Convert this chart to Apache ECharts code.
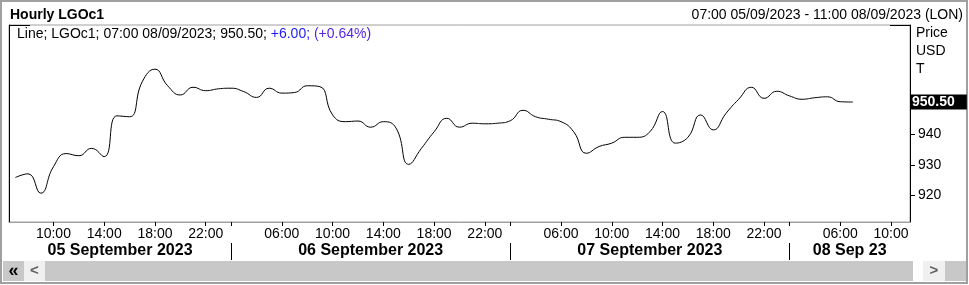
<!DOCTYPE html>
<html>
<head>
<meta charset="utf-8">
<script src="https://cdn.jsdelivr.net/npm/echarts@6/dist/echarts.min.js"></script>
<style>
html,body{margin:0;padding:0;background:#fff;}
#chart{width:969px;height:285px;}
</style>
</head>
<body>
<div id="chart"></div>
<script>
// ---- data ----
const dayKeys = ['05/09/2023', '06/09/2023', '07/09/2023', '08/09/2023'];
const dayLabels = ['05 September 2023', '06 September 2023', '07 September 2023', '08 Sep 23'];
const dayFirstHour = [7, 2, 2, 2];
const dayLastHour = [23, 23, 23, 11];
const labelHours = [6, 10, 14, 18, 22];
const yTickValues = [920, 930, 940];
const prices = [
  // 05/09 07:00 - 23:00
  925.9, 927.1, 920.8, 929.4, 933.7, 933.0, 935.4, 932.7, 946.0, 945.7,
  957.1, 961.2, 955.8, 952.8, 955.3, 954.2, 954.8,
  // 06/09 02:00 - 23:00
  955.0, 953.9, 952.0, 955.0, 953.4, 953.6, 955.8, 955.5, 946.3, 944.1,
  944.3, 942.3, 944.1, 942.0, 930.2, 935.4, 940.8, 945.2, 942.3, 943.6,
  943.4, 943.6,
  // 07/09 02:00 - 23:00
  944.4, 947.8, 945.7, 944.9, 944.1, 940.8, 933.8, 936.0, 937.1, 939.0,
  939.0, 940.8, 947.4, 937.1, 939.0, 946.3, 941.4, 946.8, 951.4, 955.3,
  951.7, 954.0,
  // 08/09 02:00 - 07:00
  952.5, 951.4, 951.9, 952.2, 950.6, 950.5
];
const titleText = 'Hourly LGOc1';
const rangeText = '07:00 05/09/2023 - 11:00 08/09/2023 (LON)';
const legendParts = ['Line; LGOc1; 07:00 08/09/2023; 950.50; ', '+6.00;', ' (+0.64%)'];
const unitLines = ['Price', 'USD', 'T'];

// ---- categories built from the session hours ----
const categories = [];
const catHour = [];
const dayStartIdx = [];
dayKeys.forEach((d, k) => {
  dayStartIdx.push(categories.length);
  for (let h = dayFirstHour[k]; h <= dayLastHour[k]; h++) {
    const hh = (h < 10 ? '0' : '') + h + ':00';
    categories.push(hh + ' ' + d);
    catHour.push(h);
  }
});
const nCat = categories.length;
const dayCenters = dayStartIdx.map((s, k) => {
  const a = k === 0 ? -0.5 : s;
  const b = k === dayStartIdx.length - 1 ? nCat - 0.5 : dayStartIdx[k + 1];
  return (a + b) / 2;
});
const dayBounds = dayStartIdx.slice(1);
const lastValue = prices[prices.length - 1];

const FONT = '"Liberation Sans", Arial, sans-serif';
const yMin = 911.4, yMax = 975.6;

const chart = echarts.init(document.getElementById('chart'), null, {renderer: 'canvas'});
chart.setOption({
  animation: false,
  backgroundColor: '#fff',
  grid: {left: 9, right: 59, top: 25, bottom: 63, show: true, borderColor: '#a0a0a0', borderWidth: 1, backgroundColor: 'transparent'},
  xAxis: [{
    type: 'category',
    data: categories,
    boundaryGap: true,
    axisLine: {show: true, onZero: false, lineStyle: {color: '#a0a0a0', width: 1}},
    axisTick: {
      show: true, alignWithLabel: true, length: 4,
      lineStyle: {color: '#000'},
      interval: (i) => labelHours.includes(catHour[i]) || dayBounds.includes(i)
    },
    axisLabel: {
      show: true, margin: 5, color: '#000', fontSize: 14, fontFamily: FONT,
      interval: (i) => labelHours.includes(catHour[i]),
      formatter: (v) => v.split(' ')[0]
    },
    splitLine: {show: false}
  }, {
    type: 'value',
    position: 'bottom',
    offset: 21,
    min: -0.5, max: nCat - 0.5,
    axisLine: {show: false, onZero: false},
    splitLine: {show: false},
    axisTick: {show: true, length: 17, customValues: dayBounds, lineStyle: {color: '#000'}},
    axisLabel: {
      show: true, margin: 0, customValues: dayCenters,
      color: '#000', fontSize: 16, fontWeight: 'bold', fontFamily: FONT,
      formatter: (v) => { const k = dayCenters.indexOf(v); return k >= 0 ? dayLabels[k] : ''; }
    }
  }],
  yAxis: [{
    type: 'value',
    position: 'right',
    min: yMin, max: yMax,
    axisLine: {show: true, onZero: false, lineStyle: {color: '#000'}},
    axisTick: {show: true, length: 5, customValues: yTickValues, lineStyle: {color: '#000'}},
    axisLabel: {show: true, margin: 8, customValues: yTickValues, color: '#000', fontSize: 14, fontFamily: FONT},
    splitLine: {show: false}
  }, {
    type: 'value',
    position: 'left',
    min: yMin, max: yMax,
    axisLine: {show: true, onZero: false, lineStyle: {color: '#000'}},
    axisTick: {show: false},
    axisLabel: {show: false},
    splitLine: {show: false}
  }],
  series: [{
    type: 'line',
    xAxisIndex: 0, yAxisIndex: 0,
    data: prices,
    smooth: true,
    symbol: 'none',
    showSymbol: false,
    clip: false,
    lineStyle: {color: '#000', width: 1},
    markLine: {
      silent: true,
      symbol: 'none',
      animation: false,
      lineStyle: {color: 'rgba(0,0,0,0)', width: 0, type: 'solid'},
      emphasis: {disabled: true},
      label: {
        show: true, position: 'end', distance: 1,
        formatter: () => lastValue.toFixed(2),
        color: '#fff', backgroundColor: '#000', fontWeight: 'bold', fontSize: 14, fontFamily: FONT,
        padding: [1, 12, 0, 1]
      },
      data: [{yAxis: lastValue}]
    }
  }],
  graphic: [
    {type: 'rect', shape: {x: 1, y: 1, width: 966, height: 282}, style: {fill: 'none', stroke: '#a0a0a0', lineWidth: 2}, silent: true},
    {type: 'text', x: 10, y: 8, style: {text: titleText, fill: '#000', font: 'bold 14px ' + FONT, align: 'left', verticalAlign: 'top'}},
    {type: 'text', x: 963, y: 8, style: {text: rangeText, fill: '#000', font: '14px ' + FONT, align: 'right', verticalAlign: 'top'}},
    {type: 'text', x: 17, y: 27.5, style: {
      text: '{a|' + legendParts[0] + '}{b|' + legendParts[1] + '}{c|' + legendParts[2] + '}',
      align: 'left', verticalAlign: 'top',
      rich: {
        a: {fill: '#000', fontSize: 14, fontFamily: FONT},
        b: {fill: '#1c1cf0', fontSize: 14, fontFamily: FONT},
        c: {fill: '#5424e6', fontSize: 14, fontFamily: FONT}
      }
    }},
    {type: 'text', x: 916, y: 26.5, style: {text: unitLines[0], fill: '#000', font: '14px ' + FONT, align: 'left', verticalAlign: 'top'}},
    {type: 'text', x: 916, y: 44.5, style: {text: unitLines[1], fill: '#000', font: '14px ' + FONT, align: 'left', verticalAlign: 'top'}},
    {type: 'text', x: 916, y: 62.5, style: {text: unitLines[2], fill: '#000', font: '14px ' + FONT, align: 'left', verticalAlign: 'top'}},
    // black frame corners
    {type: 'polyline', shape: {points: [[9, 25.5], [30, 25.5]]}, style: {stroke: '#000', lineWidth: 1}},
    {type: 'polyline', shape: {points: [[890, 25.5], [910, 25.5]]}, style: {stroke: '#000', lineWidth: 1}},
    {type: 'polyline', shape: {points: [[9, 222.5], [30, 222.5]]}, style: {stroke: '#000', lineWidth: 1}},
    {type: 'polyline', shape: {points: [[890, 222.5], [910, 222.5]]}, style: {stroke: '#000', lineWidth: 1}},
    // scrollbar
    {type: 'rect', shape: {x: 3, y: 261, width: 910, height: 20}, style: {fill: '#c8c8c8'}},
    {type: 'rect', shape: {x: 24, y: 261, width: 21, height: 20}, style: {fill: '#f0f0f0'}},
    {type: 'rect', shape: {x: 923, y: 261, width: 22, height: 20}, style: {fill: '#f0f0f0'}},
    {type: 'rect', shape: {x: 945, y: 261, width: 21, height: 20}, style: {fill: '#c8c8c8'}},
    {type: 'text', x: 13.5, y: 271, style: {text: '«', fill: '#000', font: 'bold 18px ' + FONT, align: 'center', verticalAlign: 'middle'}},
    {type: 'text', x: 34.5, y: 271, style: {text: '<', fill: '#606060', font: 'bold 15px ' + FONT, align: 'center', verticalAlign: 'middle'}},
    {type: 'text', x: 934, y: 271, style: {text: '>', fill: '#606060', font: 'bold 15px ' + FONT, align: 'center', verticalAlign: 'middle'}}
  ]
});
</script>
</body>
</html>
